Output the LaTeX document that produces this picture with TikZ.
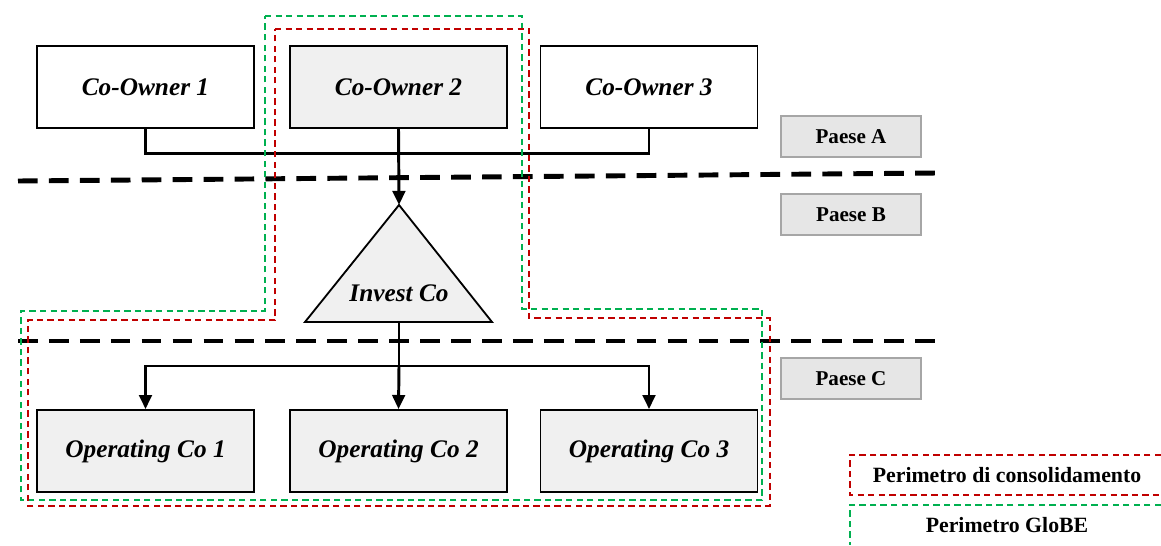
\documentclass[tikz,border=0pt]{standalone}
\usepackage{fontspec}
\setmainfont{Liberation Serif}
\usetikzlibrary{arrows.meta}
\definecolor{boxgray}{HTML}{F0F0F0}
\definecolor{paesegray}{HTML}{E6E6E6}
\definecolor{paeseline}{HTML}{A6A6A6}
\definecolor{consred}{HTML}{C00000}
\definecolor{globegreen}{HTML}{00B050}
\tikzset{
	entity/.style={draw, line width=1.3pt, minimum width=5.425cm, minimum height=2.05cm, inner sep=0pt, font=\fontsize{18}{20}\selectfont\bfseries\itshape},
	paese/.style={draw=paeseline, fill=paesegray, line width=1.3pt, minimum width=3.5cm, minimum height=1.025cm, inner sep=0pt, font=\fontsize{15}{17}\selectfont\bfseries},
	border/.style={line width=3.5pt, dash pattern=on 14pt off 8pt},
	cons/.style={draw=consred, line width=1.1pt, dash pattern=on 4.5pt off 3pt},
	globe/.style={draw=globegreen, line width=1.1pt, dash pattern=on 4.5pt off 3pt},
	link/.style={line width=2.1pt},
	legend/.style={font=\fontsize{15.5}{17}\selectfont\bfseries},
}

\begin{document}
\begin{tikzpicture}[x=0.025cm, y=-0.025cm]
			%%%%% START %%%%%
			
			\useasboundingbox (0, 0) rectangle (1161, 545);
			
			\node[entity] (own1) at (145.5, 87) {Co-Owner 1};
			\node[entity, fill=boxgray] (own2) at (398.5, 87) {Co-Owner 2};
			\node[entity] (own3) at (649, 87) {Co-Owner 3};
			
			\node[paese] (paeseA) at (851, 136.5) {Paese A};
			\node[paese] (paeseB) at (851, 214.5) {Paese B};
			\node[paese] (paeseC) at (851, 378.5) {Paese C};
			
			\coordinate (apex) at (399, 205);
			\coordinate (baseL) at (305, 322);
			\coordinate (baseR) at (492, 322);
			\coordinate (base) at (399, 322);
			\draw[line width=1.3pt, fill=boxgray] (apex) -- (baseR) -- (baseL) -- cycle;
			\node[font=\fontsize{18}{20}\selectfont\bfseries\itshape] (invest) at (399, 293) {Invest Co};
			
			\node[entity, fill=boxgray] (op1) at (145.5, 451) {Operating Co 1};
			\node[entity, fill=boxgray] (op2) at (398.5, 451) {Operating Co 2};
			\node[entity, fill=boxgray] (op3) at (649, 451) {Operating Co 3};
			
			\draw[link] (own1.south) -- ++(0, 25) -| (own3.south);
			\draw[link, -{Triangle[length=10pt, width=9pt]}] (own2.south) -- (apex);
			
			\draw[link] (base) -- ++(0, 44) coordinate (split);
			\draw[link, -{Triangle[length=10pt, width=9pt]}] (split) -| (op1.north);
			\draw[link, -{Triangle[length=10pt, width=9pt]}] (split) -- (op2.north);
			\draw[link, -{Triangle[length=10pt, width=9pt]}] (split) -| (op3.north);
			
			\draw[border] (18, 181) -- (938, 173);
			\draw[border] (18, 341) -- (938, 341);
			
			\draw[globe] (265, 16) -- (522, 16) -- (522, 309) -- (762, 309) -- (762, 500) -- (21, 500) -- (21, 311) -- (265, 311) -- cycle;
			\draw[cons] (275, 29) -- (529, 29) -- (529, 318) -- (770, 318) -- (770, 506) -- (28, 506) -- (28, 320) -- (275, 320) -- cycle;
			
			\draw[cons] (1161, 455) -- (850, 455) -- (850, 495) -- (1161, 495);
			\node[legend] (legcons) at (1007, 475) {Perimetro di consolidamento};
			\draw[globe] (1161, 505) -- (850, 505) -- (850, 545);
			\node[legend] (legglobe) at (1007, 525) {Perimetro GloBE};
			
			%%%%% END %%%%%
\end{tikzpicture}
\end{document}
